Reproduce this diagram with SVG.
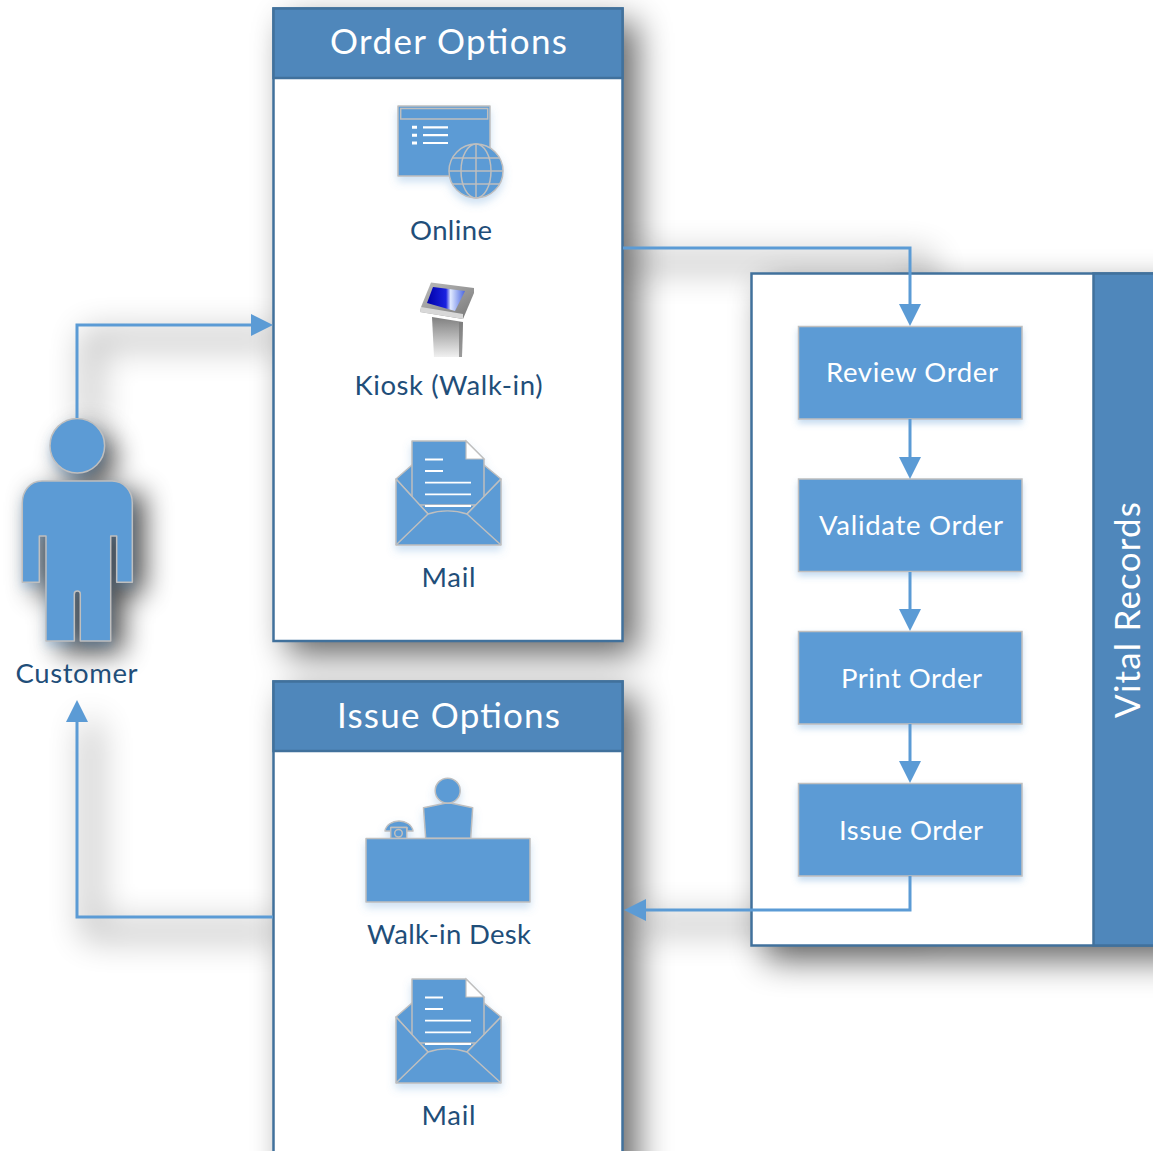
<svg xmlns="http://www.w3.org/2000/svg" width="1153" height="1151" viewBox="0 0 1153 1151">
<defs>
<style>
.ic{fill:#5b9bd5;stroke:#bfbfbf;stroke-width:1.5;stroke-linejoin:round}
.in{fill:none;stroke:#bfbfbf;stroke-width:1.5}
.wl{fill:none;stroke:#fff;stroke-width:1.8}
.pn{fill:#fff;stroke:#41719c;stroke-width:2.5}
.hd{fill:#4f87bb;stroke:#41719c;stroke-width:2.5}
.bx{fill:#5b9bd5;stroke:#bfbfbf;stroke-width:1.5}
.c{fill:none;stroke:#5b9bd5;stroke-width:3}
.a{fill:#5b9bd5}
.sh{fill:#000}
.csh{fill:none;stroke:#000;stroke-width:12}
text{font-family:Lato,"Liberation Sans",sans-serif}
.lb{font-size:27.5px;fill:#1f4e79;text-anchor:middle}
.wt{font-size:27.5px;fill:#fff;text-anchor:middle}
.tt{font-size:35px;fill:#fff;text-anchor:middle}
</style>
<filter id="b17" filterUnits="userSpaceOnUse" x="-60" y="-60" width="1300" height="1300"><feGaussianBlur stdDeviation="17"/></filter>
<filter id="b14" filterUnits="userSpaceOnUse" x="-60" y="300" width="400" height="500"><feGaussianBlur stdDeviation="14"/></filter>
<filter id="glow" x="-20%" y="-20%" width="140%" height="150%"><feDropShadow dx="0" dy="5" stdDeviation="4" flood-color="#5b9bd5" flood-opacity=".3"/></filter>
<filter id="tg" x="-10%" y="-20%" width="120%" height="150%"><feDropShadow dx="0" dy="4" stdDeviation="3" flood-color="#5b9bd5" flood-opacity=".35"/></filter>
<linearGradient id="stand" x1="0" y1="0" x2="0" y2="1"><stop offset="0" stop-color="#7f7f7f"/><stop offset="1" stop-color="#f0f0f0"/></linearGradient>
<linearGradient id="kb" x1="0" y1="0" x2="1" y2="1"><stop offset="0" stop-color="#bdbdbd"/><stop offset="1" stop-color="#777"/></linearGradient>
<linearGradient id="scr" x1="0" y1="0" x2="1" y2="0"><stop offset="0" stop-color="#0000a8"/><stop offset=".5" stop-color="#1a22e0"/><stop offset=".62" stop-color="#dfe9ff"/><stop offset="1" stop-color="#4a66e0"/></linearGradient>
<symbol id="mail" overflow="visible">
<path class="ic" d="M396 479L412 465H484L501 479L467 514H428Z"/>
<path class="ic" d="M412 441H466L484 459V505H412Z"/>
<path d="M466 441L484 459H466Z" fill="#fff" stroke="#bfbfbf" stroke-width="1.2"/>
<path class="wl" d="M425 459.500H443M425 471H443M425 482.700H471M425 494.300H471M425 506H471"/>
<path class="ic" d="M396 479L428 514C440 510 455 510 467 514L501 479V545H396Z"/>
<path class="in" d="M396 545L428 514M501 545L467 514"/>
</symbol>
</defs>
<rect width="1153" height="1151" fill="#fff"/>
<g id="shadows">
<g filter="url(#b17)" opacity=".4">
<path class="csh" d="M91 430V339H280"/>
<path class="csh" d="M91 722V931H280"/>
<path class="csh" d="M630 262H924V330"/>
<path class="csh" d="M924 880V924H640"/>
</g>
<g filter="url(#b17)" opacity=".6">
<rect class="sh" x="287" y="22" width="350" height="633"/>
<rect class="sh" x="287" y="695" width="350" height="520"/>
<rect class="sh" x="765" y="287" width="440" height="673"/>
</g>
<g filter="url(#b14)" opacity=".72" transform="translate(12 12)">
<circle class="sh" cx="77" cy="446" r="27"/><path class="sh" d="M22 481H132V582H111V641H46V582H22Z"/>
</g>
</g>
<g id="order-options">
<rect class="pn" x="273.500" y="8.500" width="349" height="632.500"/>
<rect class="hd" x="273.500" y="8.500" width="349" height="69.500"/>
<text class="tt" x="448.500" y="54" textLength="237">Order Options</text>
</g>
<g id="online" filter="url(#glow)">
<rect class="ic" x="398" y="106" width="92" height="70"/>
<rect class="in" x="400.700" y="108.500" width="87" height="10.500"/>
<path d="M412 125.800h5v3h-5zM412 133.700h5v3h-5zM412 141.500h5v3h-5zM423 126.200h25v2.200h-25zM423 134.100h25v2.200h-25zM423 141.900h25v2.200h-25z" fill="#fff"/>
<circle class="ic" cx="476" cy="171" r="27"/>
<path class="in" d="M449 171H503M476 144V198M453 158H499M453 184H499"/>
<ellipse class="in" cx="476" cy="171" rx="15" ry="27"/>
</g>
<g id="online-label"><text class="lb" x="451" y="240" textLength="82">Online</text></g>
<g id="kiosk">
<path d="M432 317L463 322L462 357H434Z" fill="url(#stand)"/>
<path d="M459 322L463 322L462 357H459Z" fill="#777" opacity=".7"/>
<path d="M431 282.500L474 288L474 293L463 319L420 312L421 307Z" fill="url(#kb)"/>
<path d="M421 307L463 314L463 319L420 312Z" fill="#d8d8d8"/>
<path d="M433 287L465 291L455 311L427 303Z" fill="url(#scr)"/>
</g>
<g id="kiosk-label"><text class="lb" x="448.500" y="395" textLength="188">Kiosk (Walk-in)</text></g>
<g id="mail-in" filter="url(#glow)"><use href="#mail"/></g>
<g id="mail-label"><text class="lb" x="448.500" y="587" textLength="54">Mail</text></g>
<g id="issue-options">
<rect class="pn" x="273.500" y="681.500" width="349" height="490"/>
<rect class="hd" x="273.500" y="681.500" width="349" height="69.500"/>
<text class="tt" x="448.500" y="727.500" textLength="223">Issue Options</text>
</g>
<g id="walkin-desk" filter="url(#glow)">
<circle class="ic" cx="447.700" cy="790.700" r="12.500"/>
<path class="ic" d="M423.500 807.700L445 803.300H451.500L472.700 807.700L470.700 838.300H425.700Z"/>
<path class="ic" d="M385 831C386 825 392 821 399 821C406 821 412 825 413 831H407V827.500H391V831Z"/>
<rect class="ic" x="390.700" y="827.500" width="16" height="11"/>
<circle class="in" cx="398.500" cy="833.300" r="3.800"/>
<rect class="ic" x="366" y="838.500" width="164" height="63.500"/>
</g>
<g id="walkin-label"><text class="lb" x="449" y="944" textLength="164">Walk-in Desk</text></g>
<g id="mail-out" filter="url(#glow)"><use href="#mail" y="538"/></g>
<g id="mail-out-label"><text class="lb" x="448.500" y="1125" textLength="54">Mail</text></g>
<g id="vital-records">
<rect class="pn" x="751.500" y="273.500" width="420" height="672"/>
<rect class="hd" x="1093.500" y="273.500" width="80" height="672"/>
<text class="tt" transform="translate(1140 610) rotate(-90)" textLength="216">Vital Records</text>
</g>
<g id="review-order"><rect class="bx" filter="url(#tg)" x="798.500" y="326.500" width="223.500" height="92.500"/><text class="wt" x="912" y="382" textLength="172">Review Order</text></g>
<g id="validate-order"><rect class="bx" filter="url(#tg)" x="798.500" y="479" width="223.500" height="92.500"/><text class="wt" x="911" y="535" textLength="184">Validate Order</text></g>
<g id="print-order"><rect class="bx" filter="url(#tg)" x="798.500" y="631.500" width="223.500" height="92.500"/><text class="wt" x="911.500" y="688" textLength="141">Print Order</text></g>
<g id="issue-order"><rect class="bx" filter="url(#tg)" x="798.500" y="783.500" width="223.500" height="92.500"/><text class="wt" x="911" y="840" textLength="144">Issue Order</text></g>
<g id="customer" filter="url(#glow)">
<circle class="ic" cx="77.300" cy="445.700" r="27.300"/>
<path class="ic" d="M42 481H112C124 481 132.300 491 132.300 503V582.300H116.700V536H110.700V641H80.300V594C80.300 590 74.300 590 74.300 594V641H46V536H39.300V582.300H22.300V503C22.300 491 30 481 42 481Z"/>
</g>
<g id="customer-label"><text class="lb" x="76.500" y="683" textLength="122">Customer</text></g>
<g id="connectors">
<path class="c" d="M77 418V325H255"/><path class="a" d="M273 325L251 314V336Z"/>
<path class="c" d="M273 917H77V718"/><path class="a" d="M77 700L66 722H88Z"/>
<path class="c" d="M623 248H910V308"/><path class="a" d="M910 326L899 304H921Z"/>
<path class="c" d="M910 419V460"/><path class="a" d="M910 479L899 457H921Z"/>
<path class="c" d="M910 572V612"/><path class="a" d="M910 631L899 609H921Z"/>
<path class="c" d="M910 724V764"/><path class="a" d="M910 783L899 761H921Z"/>
<path class="c" d="M910 876V910H642"/><path class="a" d="M624 910L646 899V921Z"/>
</g>
</svg>
